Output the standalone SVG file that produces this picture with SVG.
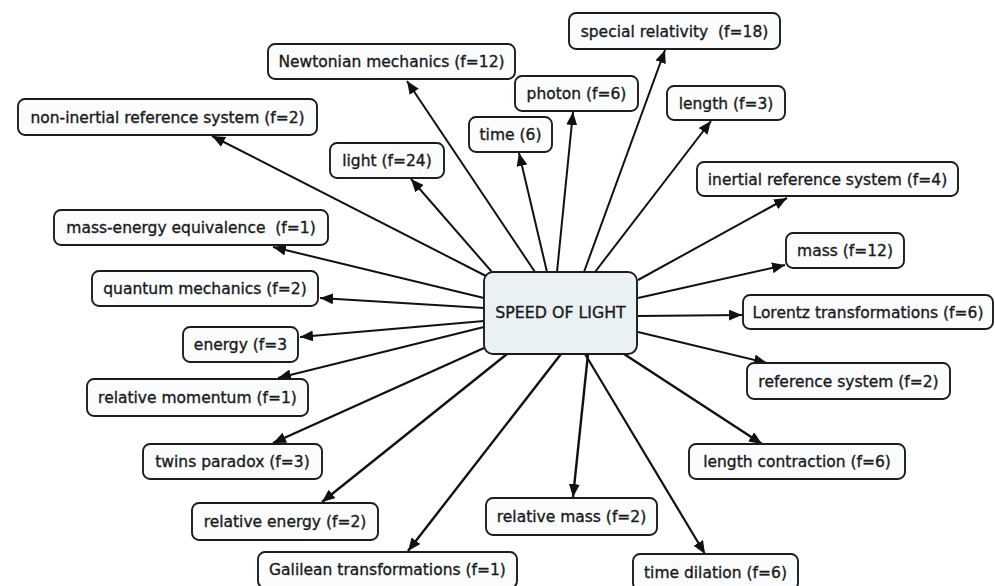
<svg xmlns="http://www.w3.org/2000/svg" width="995" height="586" viewBox="0 0 995 586">
<style>
.n rect{fill:#fafcfd;stroke:#1c1c1c;stroke-width:1.9}
.n text{font-family:"DejaVu Sans",Verdana,sans-serif;font-size:15.5px;fill:#1a1a1a;stroke:#1a1a1a;stroke-width:0.35;text-anchor:middle;white-space:pre}
#center rect{fill:#eaf1f4;stroke:#1c1c1c;stroke-width:1.9}
#center text{font-size:15.8px}
#edges line{stroke:#111;stroke-width:2;marker-end:url(#ah)}
</style>
<defs>
<marker id="ah" markerUnits="userSpaceOnUse" markerWidth="13" markerHeight="11" refX="13" refY="5.5" orient="auto" viewBox="0 0 13 11">
<path d="M0,0 L13,5.5 L0,11 z" fill="#111"/>
</marker>
</defs>
<rect width="995" height="586" fill="#fff"/>
<g id="edges">
<line x1="486" y1="276" x2="212" y2="136"/>
<line x1="535" y1="272" x2="407" y2="81"/>
<line x1="492" y1="272" x2="411" y2="179"/>
<line x1="547" y1="272" x2="519" y2="153"/>
<line x1="557" y1="272" x2="573" y2="112"/>
<line x1="584" y1="272" x2="665" y2="50"/>
<line x1="595" y1="272" x2="711" y2="121"/>
<line x1="638" y1="280" x2="787" y2="198"/>
<line x1="638" y1="298" x2="785" y2="265"/>
<line x1="638" y1="316" x2="742" y2="315"/>
<line x1="638" y1="332" x2="767" y2="363"/>
<line x1="624" y1="354" x2="762" y2="444" style="stroke-width:2.4"/>
<line x1="585" y1="354" x2="705" y2="554" style="stroke-width:2.2"/>
<line x1="588" y1="354" x2="573" y2="497" style="stroke-width:2.4"/>
<line x1="561" y1="354" x2="408" y2="551" style="stroke-width:2.4"/>
<line x1="507" y1="354" x2="322" y2="502" style="stroke-width:2.4"/>
<line x1="484" y1="348" x2="273" y2="443" style="stroke-width:2.4"/>
<line x1="484" y1="327" x2="278" y2="378"/>
<line x1="484" y1="321" x2="300" y2="337"/>
<line x1="484" y1="308" x2="320" y2="298"/>
<line x1="484" y1="298" x2="273" y2="247"/>
</g>
<g id="center" class="n"><rect x="484" y="272" width="153" height="82" rx="9"/><text x="560.5" y="318">SPEED OF LIGHT</text></g>
<g id="nonInertial" class="n"><rect x="18" y="99" width="299" height="36" rx="7"/><text x="167.5" y="122.5">non-inertial reference system (f=2)</text></g>
<g id="newtonian" class="n"><rect x="268" y="44" width="247" height="35" rx="7"/><text x="391.5" y="67">Newtonian mechanics (f=12)</text></g>
<g id="light" class="n"><rect x="330" y="143" width="114" height="35" rx="7"/><text x="387" y="166">light (f=24)</text></g>
<g id="time" class="n"><rect x="469" y="117" width="83" height="35" rx="7"/><text x="510.5" y="140">time (6)</text></g>
<g id="photon" class="n"><rect x="515" y="76" width="123" height="35" rx="7"/><text x="576.5" y="99">photon (f=6)</text></g>
<g id="specialRelativity" class="n"><rect x="569" y="13" width="211" height="36" rx="7"/><text x="674.5" y="36.5">special relativity  (f=18)</text></g>
<g id="length" class="n"><rect x="667" y="86" width="118" height="34" rx="7"/><text x="726" y="108.5">length (f=3)</text></g>
<g id="inertial" class="n"><rect x="697" y="162" width="261" height="34" rx="7"/><text x="827.5" y="184.5">inertial reference system (f=4)</text></g>
<g id="mass" class="n"><rect x="786" y="233" width="118" height="35" rx="7"/><text x="845" y="256">mass (f=12)</text></g>
<g id="lorentz" class="n"><rect x="743" y="295" width="250" height="34" rx="7"/><text x="868" y="317.5">Lorentz transformations (f=6)</text></g>
<g id="referenceSystem" class="n"><rect x="747" y="363" width="203" height="36" rx="7"/><text x="848.5" y="386.5">reference system (f=2)</text></g>
<g id="lengthContraction" class="n"><rect x="689" y="444" width="216" height="35" rx="7"/><text x="797" y="467">length contraction (f=6)</text></g>
<g id="timeDilation" class="n"><rect x="633" y="554" width="165" height="36" rx="7"/><text x="715.5" y="577.5">time dilation (f=6)</text></g>
<g id="relativeMass" class="n"><rect x="486" y="498" width="171" height="37" rx="7"/><text x="571.5" y="522">relative mass (f=2)</text></g>
<g id="galilean" class="n"><rect x="258" y="552" width="259" height="36" rx="7"/><text x="387.5" y="575">Galilean transformations (f=1)</text></g>
<g id="relativeEnergy" class="n"><rect x="192" y="503" width="186" height="37" rx="7"/><text x="285" y="527">relative energy (f=2)</text></g>
<g id="twins" class="n"><rect x="143" y="444" width="179" height="35" rx="7"/><text x="232.5" y="467">twins paradox (f=3)</text></g>
<g id="relativeMomentum" class="n"><rect x="87" y="379" width="221" height="37" rx="7"/><text x="197.5" y="403">relative momentum (f=1)</text></g>
<g id="energy" class="n"><rect x="183" y="327" width="115" height="35" rx="7"/><text x="240.5" y="350">energy (f=3</text></g>
<g id="quantum" class="n"><rect x="92" y="271" width="226" height="35" rx="7"/><text x="205" y="294">quantum mechanics (f=2)</text></g>
<g id="massEnergy" class="n"><rect x="54" y="210" width="274" height="35" rx="7"/><text x="191" y="233">mass-energy equivalence  (f=1)</text></g>
</svg>
